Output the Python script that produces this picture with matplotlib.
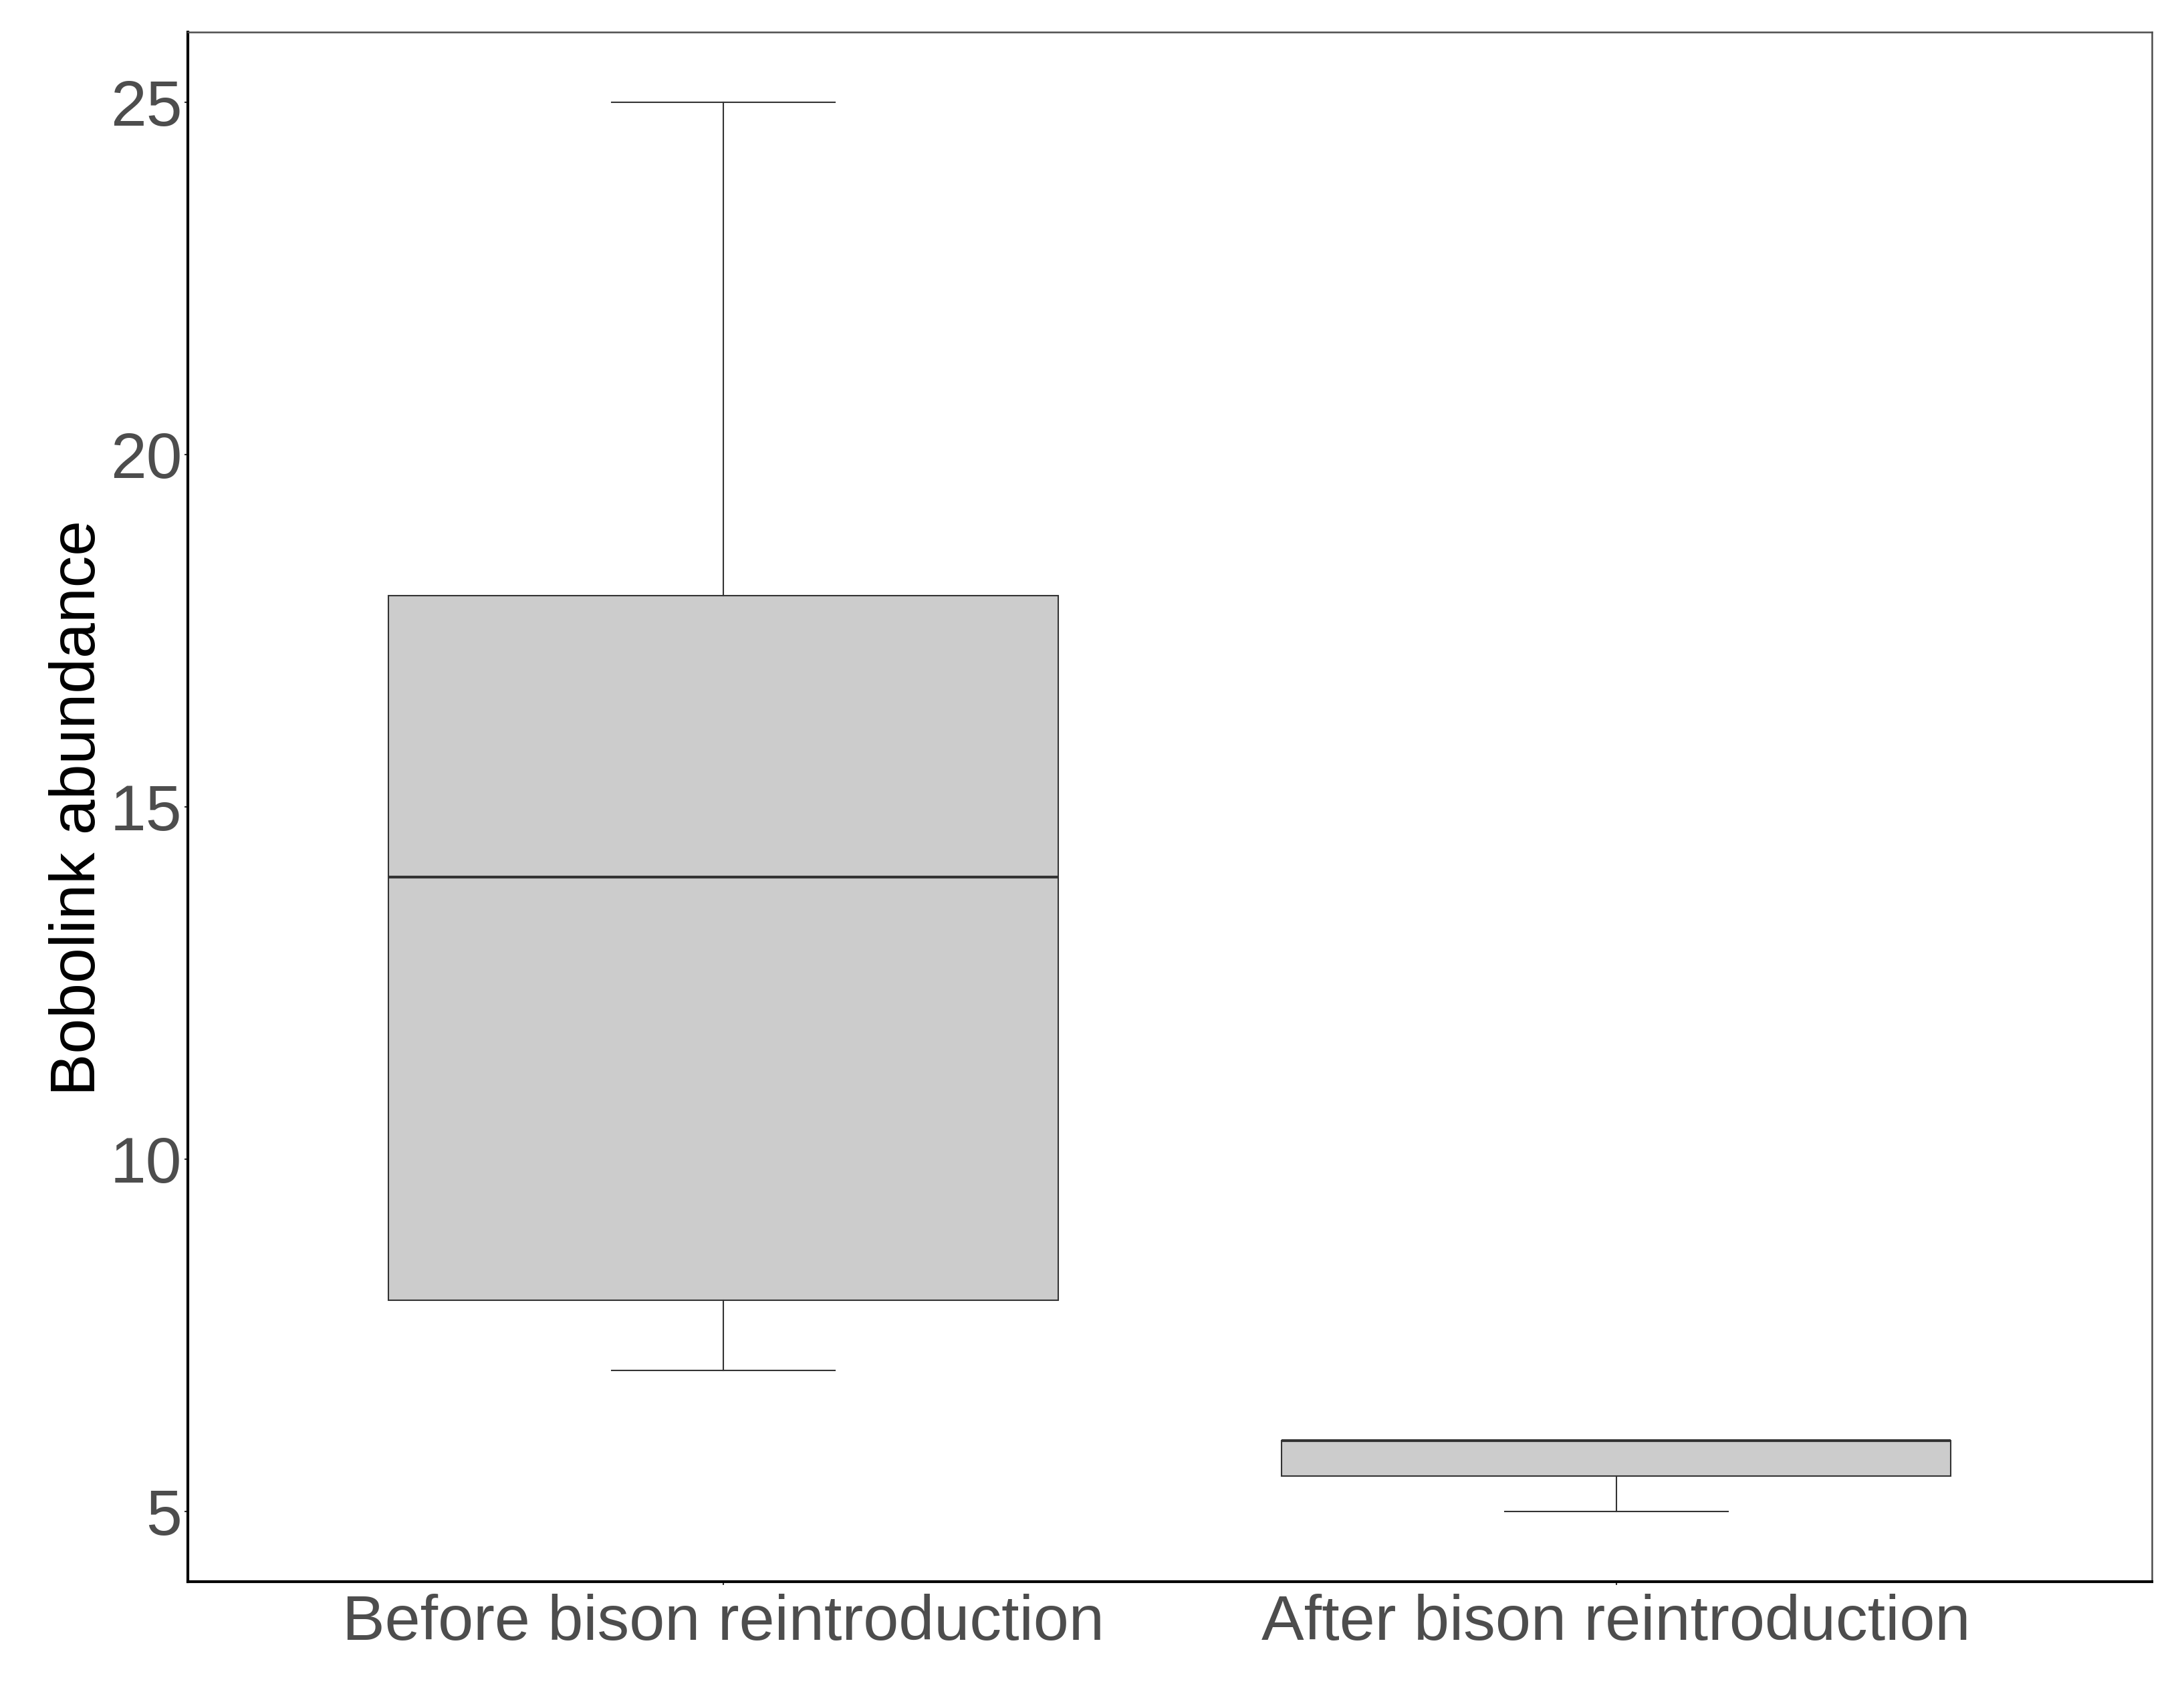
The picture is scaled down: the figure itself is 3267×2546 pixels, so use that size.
import matplotlib
matplotlib.use("Agg")
from matplotlib import pyplot as plt

plt.rcParams['font.family'] = ['Liberation Sans', 'DejaVu Sans']

# values
groups = ["Before bison reintroduction", "After bison reintroduction"]
whisker_low = [7, 5]
q1 = [8, 5.5]
median = [14, 6]
q3 = [18, 6]
whisker_high = [25, 6]

stats = []
for i in range(len(groups)):
    stats.append({"label": groups[i], "whislo": whisker_low[i], "q1": q1[i],
                  "med": median[i], "q3": q3[i], "whishi": whisker_high[i]})

fig = plt.figure(figsize=(3267 / 300, 2546 / 300), dpi=300)
ax = fig.add_axes([0.0860, 0.0707, 0.8993, 0.9104])

edge = "#333333"
ax.bxp(stats, positions=[1, 2], widths=0.75, patch_artist=True, showfliers=False,
       boxprops=dict(facecolor="#CCCCCC", edgecolor=edge, linewidth=0.5),
       medianprops=dict(color=edge, linewidth=1.0),
       whiskerprops=dict(color=edge, linewidth=0.5),
       capprops=dict(color=edge, linewidth=0.5), capwidths=0.25)

ax.set_xlim(0.4, 2.6)
ax.set_ylim(4, 26)
ax.set_yticks([5, 10, 15, 20, 25])
ax.set_xticks([1, 2])
ax.set_xticklabels(groups)

ax.tick_params(axis="both", labelcolor="#4D4D4D", color=edge,
               length=1.3, width=0.5)
ax.tick_params(axis="y", pad=0.8, labelsize=23.2)
ax.tick_params(axis="x", pad=3, labelsize=22.9)

for side in ["left", "bottom"]:
    ax.spines[side].set_linewidth(1.0)
    ax.spines[side].set_color("black")
for side in ["top", "right"]:
    ax.spines[side].set_linewidth(0.6)
    ax.spines[side].set_color("#4D4D4D")

fig.text(118 / 3267, 0.5255, "Bobolink abundance", rotation=90, fontsize=22.8,
         color="black", ha="center", va="center")

fig.savefig("out.png", dpi=300)
